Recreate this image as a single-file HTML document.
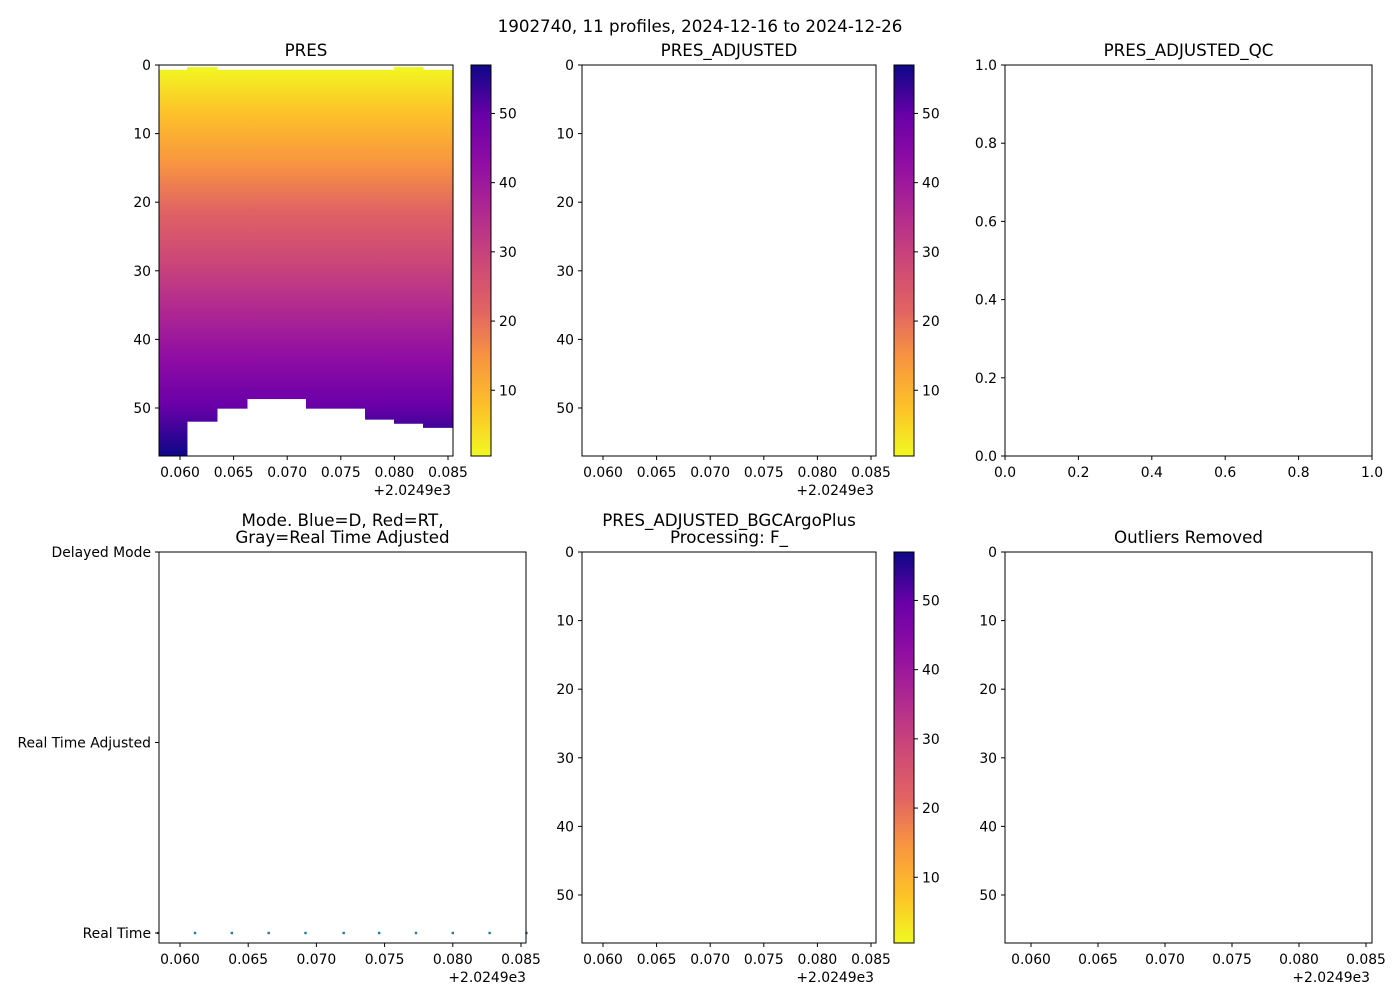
<!DOCTYPE html>
<html><head><meta charset="utf-8">
<style>
body{margin:0;background:#fff;}
svg{display:block;font-family:"DejaVu Sans","Liberation Sans",sans-serif;}
</style></head>
<body>
<svg id="fig" width="1400" height="1000" viewBox="0 0 1400 1000">
<defs>
<linearGradient id="plasmaV" x1="0" y1="0" x2="0" y2="1">
<stop offset="0" stop-color="#f0f921"/>
<stop offset="0.12" stop-color="#fdc328"/>
<stop offset="0.25" stop-color="#f89540"/>
<stop offset="0.37" stop-color="#e16462"/>
<stop offset="0.5" stop-color="#cc4778"/>
<stop offset="0.62" stop-color="#b12a90"/>
<stop offset="0.75" stop-color="#8f0da4"/>
<stop offset="0.87" stop-color="#6a00a8"/>
<stop offset="1" stop-color="#0d0887"/>
</linearGradient>
<linearGradient id="plasmaCB" x1="0" y1="1" x2="0" y2="0">
<stop offset="0" stop-color="#f0f921"/>
<stop offset="0.12" stop-color="#fdc328"/>
<stop offset="0.25" stop-color="#f89540"/>
<stop offset="0.37" stop-color="#e16462"/>
<stop offset="0.5" stop-color="#cc4778"/>
<stop offset="0.62" stop-color="#b12a90"/>
<stop offset="0.75" stop-color="#8f0da4"/>
<stop offset="0.87" stop-color="#6a00a8"/>
<stop offset="1" stop-color="#0d0887"/>
</linearGradient>
</defs>
<text x="700" y="32" text-anchor="middle" font-size="16.7">1902740, 11 profiles, 2024-12-16 to 2024-12-26</text>
<g id="root"></g>
</svg>
<script>
// Heatmap column edges (time offset from 2024.9) and depth coverage per column
const colEdges = [0.05804, 0.06065, 0.06345, 0.06625, 0.07175, 0.07726, 0.07996, 0.08267, 0.08547];
const colTop = [0.7, 0.3, 0.7, 0.7, 0.7, 0.7, 0.3, 0.7];
const colBottom = [57.0, 52.0, 50.1, 48.7, 50.1, 51.7, 52.3, 52.9];
// Profile times and data modes (0 = Real Time, 1 = RT Adjusted, 2 = Delayed)
const profileTimes = [0.0584, 0.0611, 0.0638, 0.0665, 0.0692, 0.0720, 0.0746, 0.0773, 0.0800, 0.0827, 0.0854];
const profileModes = [0, 0, 0, 0, 0, 0, 0, 0, 0, 0, 0];
const xTicks = [0.060, 0.065, 0.070, 0.075, 0.080, 0.085];
const xTickLabels = ["0.060", "0.065", "0.070", "0.075", "0.080", "0.085"];
const depthTicks = [0, 10, 20, 30, 40, 50];
const cbTicks = [10, 20, 30, 40, 50];
const qcTicks = [0, 0.2, 0.4, 0.6, 0.8, 1.0];
const qcTickLabels = ["0.0", "0.2", "0.4", "0.6", "0.8", "1.0"];
const modeTicks = [2, 1, 0];
const modeLabels = ["Delayed Mode", "Real Time Adjusted", "Real Time"];

const NS = "http://www.w3.org/2000/svg";
const root = document.getElementById('root');
function mk(tag, attrs, parent, text) {
  const e = document.createElementNS(NS, tag);
  for (const k in attrs) e.setAttribute(k, attrs[k]);
  if (text !== undefined) e.textContent = text;
  (parent || root).appendChild(e);
  return e;
}
function lin(d0, d1, r0, r1) { return v => r0 + (v - d0) / (d1 - d0) * (r1 - r0); }

const FS = 13.9;
const TS = 16.7;
function frame(g, x0, y0, x1, y1) {
  const r = mk('rect', {x: x0, y: y0, width: x1 - x0, height: y1 - y0, fill: 'none', stroke: '#000', 'stroke-width': 1}, g);
  
  
}
function title(g, cx, y, lines) {
  lines.forEach((t, i) => {
    const e = mk('text', {x: cx, y: y + i * 17, 'text-anchor': 'middle', 'font-size': TS}, g, t);
    
    
  });
}
function xAxis(g, sx, y1, vals, labels, offset) {
  vals.forEach((v, i) => {
    const x = sx(v);
    mk('line', {x1: x, y1: y1, x2: x, y2: y1 + 4, stroke: '#000'}, g);
    const t = mk('text', {x: x, y: y1 + 21, 'text-anchor': 'middle', 'font-size': FS}, g, labels[i]);
    
    
  });
  if (offset) {
    const t = mk('text', {x: offset[0], y: y1 + 39, 'text-anchor': 'end', 'font-size': FS}, g, '+2.0249e3');
    
    
  }
}
function yAxis(g, sy, x0, vals, labels) {
  vals.forEach((v, i) => {
    const y = sy(v);
    mk('line', {x1: x0 - 4, y1: y, x2: x0, y2: y, stroke: '#000'}, g);
    const t = mk('text', {x: x0 - 8, y: y + 5, 'text-anchor': 'end', 'font-size': FS}, g, labels[i]);
    
    
  });
}
function colorbar(g, x0, y0, y1) {
  const sc = lin(0.5, 57, y1, y0);
  const r = mk('rect', {x: x0, y: y0, width: 20, height: y1 - y0, fill: 'url(#plasmaCB)', stroke: '#000'}, g);
  
  
  cbTicks.forEach(v => {
    const y = sc(v);
    mk('line', {x1: x0 + 20, y1: y, x2: x0 + 24, y2: y, stroke: '#000'}, g);
    const t = mk('text', {x: x0 + 28, y: y + 5, 'font-size': FS}, g, String(v));
    
    
  });
}
function depthPanel(name, x0, x1, y0, y1, cb, titleLines, heat) {
  const g = mk('g', {});
  
  
  const sx = lin(0.060, 0.085, x0 + (x1 - x0) * (21 / 294), x0 + (x1 - x0) * (289 / 294));
  const sy = lin(0, 57, y0, y1);
  if (heat) {
    for (let i = 0; i < colBottom.length; i++) {
      const xa = sx(colEdges[i]), xb = sx(colEdges[i + 1]);
      const ya = sy(colTop[i]), yb = sy(colBottom[i]);
      const c = mk('rect', {x: xa, y: ya, width: xb - xa + 0.5, height: yb - ya, fill: 'url(#plasmaV)'}, g);
      
      
    }
  }
  frame(g, x0, y0, x1, y1);
  xAxis(g, sx, y1, xTicks, xTickLabels, [x1 - 2]);
  yAxis(g, sy, x0, depthTicks, depthTicks.map(String));
  title(g, (x0 + x1) / 2, y0 - 9 - (titleLines.length - 1) * 17, titleLines);
  if (cb) colorbar(g, cb, y0, y1);
}
(function () {
  const gr = document.getElementById('plasmaV');
  gr.setAttribute('gradientUnits', 'userSpaceOnUse');
  gr.setAttribute('x1', 0); gr.setAttribute('x2', 0);
  gr.setAttribute('y1', 65); gr.setAttribute('y2', 456);
})();

depthPanel('pres-panel', 159, 453, 65, 456, 471, ['PRES'], true);
depthPanel('pres-adjusted-panel', 582, 876, 65, 456, 894, ['PRES_ADJUSTED'], false);
depthPanel('bgc-argo-plus-panel', 582, 876, 552, 943, 894, ['PRES_ADJUSTED_BGCArgoPlus', 'Processing: F_'], false);

(function () {
  const g = mk('g', {});
  
  
  const x0 = 1005, x1 = 1372, y0 = 65, y1 = 456;
  const sx = lin(0, 1, x0, x1), sy = lin(0, 1, y1, y0);
  frame(g, x0, y0, x1, y1);
  xAxis(g, sx, y1, qcTicks, qcTickLabels, null);
  yAxis(g, sy, x0, qcTicks, qcTickLabels);
  title(g, (x0 + x1) / 2, y0 - 9, ['PRES_ADJUSTED_QC']);
})();

(function () {
  const g = mk('g', {});
  
  
  const x0 = 159, x1 = 526, y0 = 552, y1 = 943;
  const sx = lin(0.060, 0.085, 180, 521);
  const sy = lin(0, 2, 933, 552);
  profileTimes.forEach((t, i) => {
    const d = mk('rect', {x: sx(t) - 1.2, y: sy(profileModes[i]) - 1.2, width: 2.4, height: 2.4, fill: '#1f77b4'}, g);
    
    
  });
  frame(g, x0, y0, x1, y1);
  xAxis(g, sx, y1, xTicks, xTickLabels, [x1]);
  yAxis(g, sy, x0, modeTicks, modeLabels);
  title(g, (x0 + x1) / 2, y0 - 26, ['Mode. Blue=D, Red=RT,', 'Gray=Real Time Adjusted']);
})();

(function () {
  const g = mk('g', {});
  
  
  const x0 = 1005, x1 = 1372, y0 = 552, y1 = 943;
  const sx = lin(0.060, 0.085, x0 + 26, x0 + 361);
  const sy = lin(0, 57, y0, y1);
  frame(g, x0, y0, x1, y1);
  xAxis(g, sx, y1, xTicks, xTickLabels, [x1 - 2]);
  yAxis(g, sy, x0, depthTicks, depthTicks.map(String));
  title(g, (x0 + x1) / 2, y0 - 9, ['Outliers Removed']);
})();
</script>
</body></html>
